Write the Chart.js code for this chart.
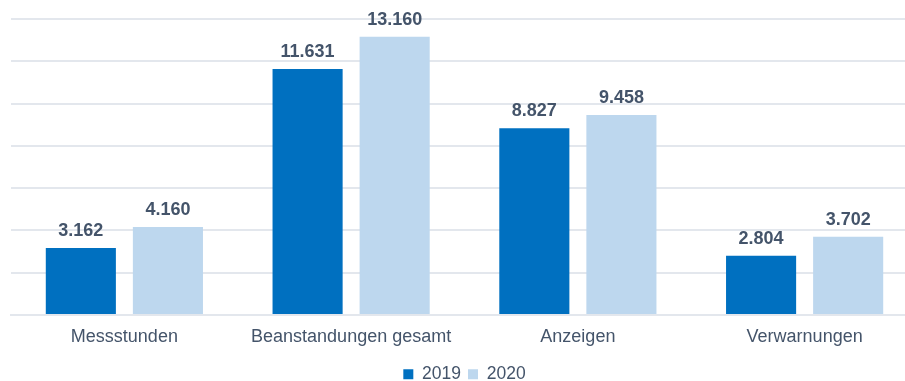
<!DOCTYPE html>
<html lang="de">
<head>
  <meta charset="UTF-8" />
  <title>Messstunden und Beanstandungen 2019 / 2020</title>
  <script src="https://cdn.jsdelivr.net/npm/chart.js"></script>
  <style>
    html, body { margin: 0; padding: 0; background: #fff; overflow: hidden; }
    #wrap { width: 918px; height: 393px; }
  </style>
</head>
<body>
  <div id="wrap">
    <canvas id="chart" width="918" height="393"></canvas>
  </div>

  <script>
    const categories = ['Messstunden', 'Beanstandungen gesamt', 'Anzeigen', 'Verwarnungen'];
    const years = ['2019', '2020'];
    const values2019 = [3162, 11631, 8827, 2804];
    const values2020 = [4160, 13160, 9458, 3702];

    const textColor = '#44546A';
    const gridColor = '#E3E7ED';

    // 3162 -> "3.162"
    function fmt(v) {
      return String(v).replace(/\B(?=(\d{3})+(?!\d))/g, '.');
    }

    // value labels above each bar
    const barValues = {
      id: 'barValues',
      afterDatasetsDraw(chart) {
        const ctx = chart.ctx;
        ctx.save();
        ctx.font = 'bold 18px "Liberation Sans", Arial, sans-serif';
        ctx.fillStyle = textColor;
        ctx.textAlign = 'center';
        ctx.textBaseline = 'alphabetic';
        chart.data.datasets.forEach((ds, i) => {
          chart.getDatasetMeta(i).data.forEach((bar, j) => {
            ctx.fillText(fmt(ds.data[j]), bar.x, bar.y - 12);
          });
        });
        ctx.restore();
      }
    };

    Chart.defaults.font.family = '"Liberation Sans", Arial, sans-serif';
    Chart.defaults.font.size = 18;
    Chart.defaults.color = textColor;

    new Chart(document.getElementById('chart'), {
      type: 'bar',
      data: {
        labels: categories,
        datasets: [
          {
            label: years[0],
            data: values2019,
            backgroundColor: '#0070C0'
          },
          {
            label: years[1],
            data: values2020,
            backgroundColor: '#BDD7EE'
          }
        ]
      },
      options: {
        responsive: false,
        animation: false,
        categoryPercentage: 0.768,
        barPercentage: 0.805,
        layout: { padding: { left: 11, right: 0, top: 19, bottom: 0 } },
        plugins: {
          tooltip: { enabled: false },
          legend: {
            position: 'bottom',
            labels: {
              boxWidth: 10,
              boxHeight: 10,
              padding: 7,
              color: textColor,
              font: { size: 17.5 }
            }
          }
        },
        scales: {
          x: {
            grid: { display: false, drawTicks: false },
            border: { display: true, color: gridColor, width: 2 },
            ticks: { padding: 11, color: textColor, font: { size: 18 } }
          },
          y: {
            min: 0,
            max: 14000,
            ticks: { stepSize: 2000, display: false },
            grid: { color: gridColor, lineWidth: 2, drawTicks: false },
            border: { display: false }
          }
        }
      },
      plugins: [barValues]
    });
  </script>
</body>
</html>
